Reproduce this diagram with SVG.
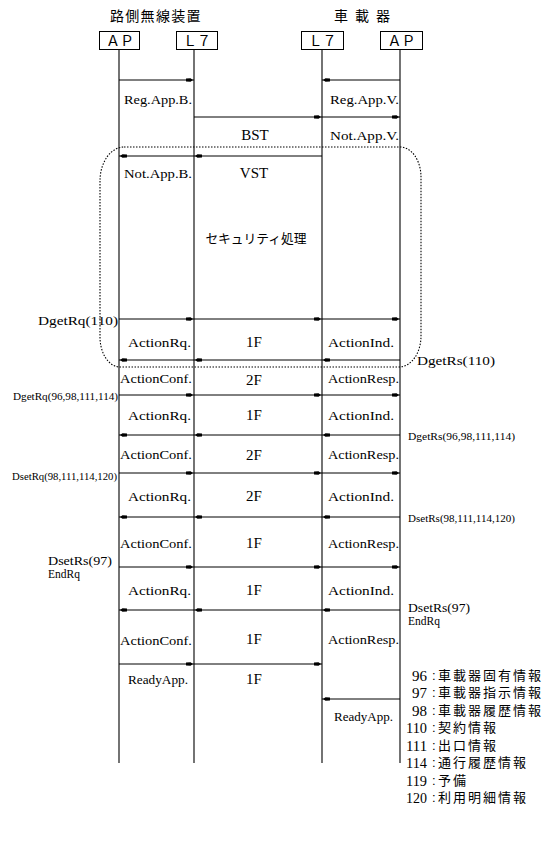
<svg xmlns="http://www.w3.org/2000/svg" width="550" height="847" viewBox="0 0 550 847">
<style>
.box{fill:#fff;stroke:#000;stroke-width:1}
.ll{stroke:#000;stroke-width:1.1;fill:none}
.msg{stroke:#000;stroke-width:1;fill:none;marker-end:url(#ah)}
.lbl{font-family:"Liberation Serif","Times New Roman",serif;font-size:13px;fill:#000}
.ctr{font-family:"Liberation Serif","Times New Roman",serif;font-size:15px;fill:#000;text-anchor:middle}
.sm{font-family:"Liberation Serif","Times New Roman",serif;font-size:10px;fill:#000}
.jp{font-family:"Noto Sans CJK JP",sans-serif;font-size:14px;fill:#000}
.lg{font-family:"Noto Sans CJK JP",sans-serif;font-size:13px;fill:#000;letter-spacing:2px}
.fw{font-family:"Noto Sans CJK JP",sans-serif;font-size:14px;fill:#000;text-anchor:middle}
.num{font-family:"Liberation Serif","Times New Roman",serif;font-size:15px;fill:#000;text-anchor:end}
.col{font-family:"Liberation Sans",Arial,sans-serif;font-size:13px;letter-spacing:0}
.dot{fill:none;stroke:#000;stroke-width:1.1;stroke-dasharray:1.5 1.5}
</style>
<defs>
<marker id="ah" viewBox="-9 -3 11 6" refX="1" refY="0" markerWidth="11" markerHeight="6" markerUnits="userSpaceOnUse" orient="auto">
<path d="M0,0 L-2.5,-1.8 L-7,-1.6 L-7,1.6 L-2.5,1.8 Z" fill="#000"/>
</marker>
</defs>
<rect width="550" height="847" fill="#fff"/>

<g id="titles">
<text class="jp" x="110" y="21" style="letter-spacing:1.3px">路側無線装置</text>
<text class="jp" x="334 348 355 369 376" y="21">車 載 器</text>
</g>

<g id="ap-road">
<line class="ll" x1="119" y1="49" x2="119" y2="763"/>
<rect class="box" x="99.5" y="31.5" width="40" height="18"/>
<text class="fw" x="120" y="45.5">ＡＰ</text>
</g>
<g id="l7-road">
<line class="ll" x1="194" y1="49" x2="194" y2="763"/>
<rect class="box" x="176.5" y="31.5" width="41" height="18"/>
<text class="fw" x="197" y="45.5">Ｌ７</text>
</g>
<g id="l7-car">
<line class="ll" x1="322" y1="49" x2="322" y2="763"/>
<rect class="box" x="301.5" y="31.5" width="42" height="18"/>
<text class="fw" x="322.5" y="45.5">Ｌ７</text>
</g>
<g id="ap-car">
<line class="ll" x1="400" y1="49" x2="400" y2="763"/>
<rect class="box" x="380.5" y="31.5" width="42" height="18"/>
<text class="fw" x="401.5" y="45.5">ＡＰ</text>
</g>

<g id="security-region">
<path class="dot" d="M124,147 H400 A21 30 0 0 1 421 177 V336 A22 31 0 0 1 399 367 H120 A20 30 0 0 1 100 337 V181 A24 34 0 0 1 124 147 Z"/>
<text class="jp" x="256" y="243" style="font-size:12.75px;text-anchor:middle">セキュリティ処理</text>
</g>

<g id="connectors">
<line class="msg" x1="119" y1="80" x2="194" y2="80"/>
<line class="msg" x1="400" y1="80" x2="322" y2="80"/>
<line class="msg" x1="194" y1="117" x2="322" y2="117"/>
<line class="msg" x1="322" y1="117" x2="400" y2="117"/>
<line class="msg" x1="322" y1="156" x2="194" y2="156"/>
<line class="msg" x1="194" y1="156" x2="119" y2="156"/>

<line class="msg" x1="119" y1="319" x2="194" y2="319"/>
<line class="msg" x1="194" y1="319" x2="322" y2="319"/>
<line class="msg" x1="322" y1="319" x2="400" y2="319"/>
<line class="msg" x1="400" y1="360" x2="322" y2="360"/>
<line class="msg" x1="322" y1="360" x2="194" y2="360"/>
<line class="msg" x1="194" y1="360" x2="119" y2="360"/>

<line class="msg" x1="119" y1="395" x2="194" y2="395"/>
<line class="msg" x1="194" y1="395" x2="322" y2="395"/>
<line class="msg" x1="322" y1="395" x2="400" y2="395"/>
<line class="msg" x1="400" y1="435" x2="322" y2="435"/>
<line class="msg" x1="322" y1="435" x2="194" y2="435"/>
<line class="msg" x1="194" y1="435" x2="119" y2="435"/>

<line class="msg" x1="119" y1="473" x2="194" y2="473"/>
<line class="msg" x1="194" y1="473" x2="322" y2="473"/>
<line class="msg" x1="322" y1="473" x2="400" y2="473"/>
<line class="msg" x1="400" y1="517" x2="322" y2="517"/>
<line class="msg" x1="322" y1="517" x2="194" y2="517"/>
<line class="msg" x1="194" y1="517" x2="119" y2="517"/>

<line class="msg" x1="119" y1="567" x2="194" y2="567"/>
<line class="msg" x1="194" y1="567" x2="322" y2="567"/>
<line class="msg" x1="322" y1="567" x2="400" y2="567"/>
<line class="msg" x1="400" y1="610" x2="322" y2="610"/>
<line class="msg" x1="322" y1="610" x2="194" y2="610"/>
<line class="msg" x1="194" y1="610" x2="119" y2="610"/>

<line class="msg" x1="119" y1="664" x2="194" y2="664"/>
<line class="msg" x1="194" y1="664" x2="322" y2="664"/>
<line class="msg" x1="400" y1="699" x2="322" y2="699"/>
</g>

<g id="labels">
<text class="lbl" x="124" y="104" textLength="68" lengthAdjust="spacingAndGlyphs">Reg.App.B.</text>
<text class="lbl" x="330" y="104" textLength="69" lengthAdjust="spacingAndGlyphs">Reg.App.V.</text>
<text class="ctr" x="255" y="140">BST</text>
<text class="lbl" x="330" y="140" textLength="69" lengthAdjust="spacingAndGlyphs">Not.App.V.</text>
<text class="lbl" x="124" y="178" textLength="68" lengthAdjust="spacingAndGlyphs">Not.App.B.</text>
<text class="ctr" x="254" y="178">VST</text>

<text class="lbl" x="38" y="325" textLength="80" lengthAdjust="spacingAndGlyphs">DgetRq(110)</text>
<text class="lbl" x="128" y="347" textLength="63" lengthAdjust="spacingAndGlyphs">ActionRq.</text>
<text class="ctr" x="254" y="347">1F</text>
<text class="lbl" x="328" y="347" textLength="66" lengthAdjust="spacingAndGlyphs">ActionInd.</text>
<text class="lbl" x="417" y="365" textLength="78" lengthAdjust="spacingAndGlyphs">DgetRs(110)</text>
<text class="lbl" x="120" y="383" textLength="72" lengthAdjust="spacingAndGlyphs">ActionConf.</text>
<text class="ctr" x="254" y="385">2F</text>
<text class="lbl" x="328" y="383" textLength="71" lengthAdjust="spacingAndGlyphs">ActionResp.</text>

<text class="sm" x="13" y="400" textLength="105" lengthAdjust="spacingAndGlyphs">DgetRq(96,98,111,114)</text>
<text class="lbl" x="128" y="420" textLength="63" lengthAdjust="spacingAndGlyphs">ActionRq.</text>
<text class="ctr" x="254" y="420">1F</text>
<text class="lbl" x="328" y="420" textLength="66" lengthAdjust="spacingAndGlyphs">ActionInd.</text>
<text class="sm" x="408" y="440" textLength="107" lengthAdjust="spacingAndGlyphs">DgetRs(96,98,111,114)</text>
<text class="lbl" x="120" y="459" textLength="72" lengthAdjust="spacingAndGlyphs">ActionConf.</text>
<text class="ctr" x="254" y="460">2F</text>
<text class="lbl" x="328" y="459" textLength="71" lengthAdjust="spacingAndGlyphs">ActionResp.</text>

<text class="sm" x="12" y="480" textLength="105" lengthAdjust="spacingAndGlyphs">DsetRq(98,111,114,120)</text>
<text class="lbl" x="128" y="501" textLength="63" lengthAdjust="spacingAndGlyphs">ActionRq.</text>
<text class="ctr" x="254" y="501">2F</text>
<text class="lbl" x="328" y="501" textLength="66" lengthAdjust="spacingAndGlyphs">ActionInd.</text>
<text class="sm" x="408" y="522" textLength="107" lengthAdjust="spacingAndGlyphs">DsetRs(98,111,114,120)</text>
<text class="lbl" x="120" y="548" textLength="72" lengthAdjust="spacingAndGlyphs">ActionConf.</text>
<text class="ctr" x="254" y="548">1F</text>
<text class="lbl" x="328" y="548" textLength="71" lengthAdjust="spacingAndGlyphs">ActionResp.</text>

<text class="lbl" x="48" y="565" textLength="64" lengthAdjust="spacingAndGlyphs">DsetRs(97)</text>
<text class="lbl" x="48" y="578" textLength="32" lengthAdjust="spacingAndGlyphs">EndRq</text>
<text class="lbl" x="128" y="595" textLength="63" lengthAdjust="spacingAndGlyphs">ActionRq.</text>
<text class="ctr" x="254" y="595">1F</text>
<text class="lbl" x="328" y="595" textLength="66" lengthAdjust="spacingAndGlyphs">ActionInd.</text>
<text class="lbl" x="408" y="612" textLength="62" lengthAdjust="spacingAndGlyphs">DsetRs(97)</text>
<text class="lbl" x="408" y="625" textLength="32" lengthAdjust="spacingAndGlyphs">EndRq</text>
<text class="lbl" x="120" y="645" textLength="72" lengthAdjust="spacingAndGlyphs">ActionConf.</text>
<text class="ctr" x="254" y="644">1F</text>
<text class="lbl" x="328" y="644" textLength="71" lengthAdjust="spacingAndGlyphs">ActionResp.</text>

<text class="lbl" x="128" y="684" textLength="60" lengthAdjust="spacingAndGlyphs">ReadyApp.</text>
<text class="ctr" x="254" y="684">1F</text>
<text class="lbl" x="334" y="721" textLength="59" lengthAdjust="spacingAndGlyphs">ReadyApp.</text>
</g>

<g id="legend">
<text class="num" x="427" y="681" textLength="15" lengthAdjust="spacingAndGlyphs">96</text>
<text class="lg" x="432" y="680"><tspan class="col">:</tspan><tspan x="438">車載器固有情報</tspan></text>
<text class="num" x="427" y="698" textLength="15" lengthAdjust="spacingAndGlyphs">97</text>
<text class="lg" x="432" y="697"><tspan class="col">:</tspan><tspan x="438">車載器指示情報</tspan></text>
<text class="num" x="427" y="716" textLength="15" lengthAdjust="spacingAndGlyphs">98</text>
<text class="lg" x="432" y="715"><tspan class="col">:</tspan><tspan x="438">車載器履歴情報</tspan></text>
<text class="num" x="427" y="733" textLength="21" lengthAdjust="spacingAndGlyphs">110</text>
<text class="lg" x="432" y="732"><tspan class="col">:</tspan><tspan x="438">契約情報</tspan></text>
<text class="num" x="427" y="751" textLength="21" lengthAdjust="spacingAndGlyphs">111</text>
<text class="lg" x="432" y="750"><tspan class="col">:</tspan><tspan x="438">出口情報</tspan></text>
<text class="num" x="427" y="768" textLength="21" lengthAdjust="spacingAndGlyphs">114</text>
<text class="lg" x="432" y="767"><tspan class="col">:</tspan><tspan x="438">通行履歴情報</tspan></text>
<text class="num" x="427" y="786" textLength="21" lengthAdjust="spacingAndGlyphs">119</text>
<text class="lg" x="432" y="785"><tspan class="col">:</tspan><tspan x="438">予備</tspan></text>
<text class="num" x="427" y="803" textLength="21" lengthAdjust="spacingAndGlyphs">120</text>
<text class="lg" x="432" y="802"><tspan class="col">:</tspan><tspan x="438">利用明細情報</tspan></text>
</g>
</svg>
